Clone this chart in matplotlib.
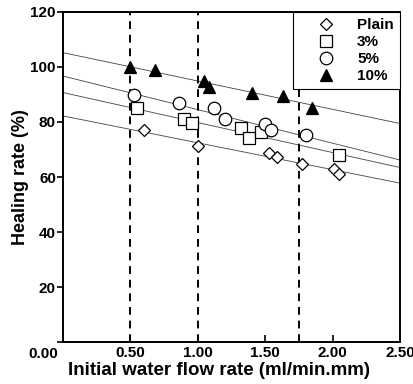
import matplotlib.pyplot as plt
import numpy as np

plt.rcParams['font.family'] = ['Liberation Sans', 'DejaVu Sans']
plt.rcParams['font.weight'] = 'bold'

# healing rate vs initial water flow rate
plain_x = [0.60, 1.00, 1.53, 1.59, 1.77, 2.01, 2.05]
plain_y = [77.2, 71.2, 68.9, 67.1, 64.9, 62.8, 61.0]
p3_x = [0.55, 0.90, 0.96, 1.32, 1.38, 1.47, 2.05]
p3_y = [84.9, 81.0, 79.8, 77.8, 74.0, 76.2, 67.9]
p5_x = [0.53, 0.86, 1.12, 1.20, 1.50, 1.54, 1.80]
p5_y = [89.7, 86.9, 85.1, 81.0, 79.2, 77.2, 75.2]
p10_x = [0.50, 0.68, 1.05, 1.08, 1.40, 1.63, 1.85]
p10_y = [100.0, 98.8, 94.8, 92.7, 90.7, 89.5, 84.9]

# linear fits as drawn (intercept, slope)
fit_intercept = [82.2, 90.7, 96.7, 105.2]
fit_slope = [-9.76, -10.9, -12.2, -10.3]

labels = ['Plain', '3%', '5%', '10%']
markers = ['D', 's', 'o', '^']
msizes = [6.5, 9, 9, 8]
filled = [False, False, False, True]
xs = [plain_x, p3_x, p5_x, p10_x]
ys = [plain_y, p3_y, p5_y, p10_y]

boundaries = [0.5, 1.0, 1.75]

fig = plt.figure(figsize=(4.14, 3.84), dpi=100)
ax = fig.add_axes([0.152, 0.109, 0.814, 0.860])

xl = np.array([0, 2.5])
for b, m in zip(fit_intercept, fit_slope):
    ax.plot(xl, b + m * xl, color='#444444', lw=0.6, zorder=1)

for b in boundaries:
    ax.axvline(b, color='black', lw=1.4, ls=(0, (4, 3)), zorder=2)

for x, y, lab, mk, ms, f in zip(xs, ys, labels, markers, msizes, filled):
    ax.plot(x, y, ls='none', marker=mk, ms=ms, mec='black', mew=0.9,
            mfc='black' if f else 'white', label=lab, zorder=3)

ax.set_xlim(0, 2.5)
ax.set_ylim(0, 120)
ax.set_xticks([0, 0.5, 1.0, 1.5, 2.0, 2.5])
ax.set_xticklabels(['', '0.50', '1.00', '1.50', '2.00', '2.50'])
ax.set_yticks([0, 20, 40, 60, 80, 100, 120])
ax.set_yticklabels(['', '20', '40', '60', '80', '100', '120'])
ax.tick_params(axis='x', direction='in', length=5, width=1.2, labelsize=11, pad=3)
ax.tick_params(axis='y', direction='out', length=4, width=1.2, labelsize=11, pad=1)
ax.text(-0.015, -0.015, '0.00', transform=ax.transAxes, ha='right', va='top',
        fontsize=11, fontweight='bold')
for s in ax.spines.values():
    s.set_linewidth(1.4)

ax.set_xlabel('Initial water flow rate (ml/min.mm)', fontsize=13.5, fontweight='bold', labelpad=1)
ax.xaxis.label.set_x(0.463)
ax.set_ylabel('Healing rate (%)', fontsize=13, fontweight='bold', labelpad=1)

leg = ax.legend(loc='upper right', fancybox=False, edgecolor='black', framealpha=1,
                borderaxespad=0, fontsize=11, handlelength=3.5, handletextpad=0.3,
                borderpad=0.4, labelspacing=0.2, markerfirst=True)
leg.get_frame().set_linewidth(0.8)

fig.savefig('out.png', dpi=100)
